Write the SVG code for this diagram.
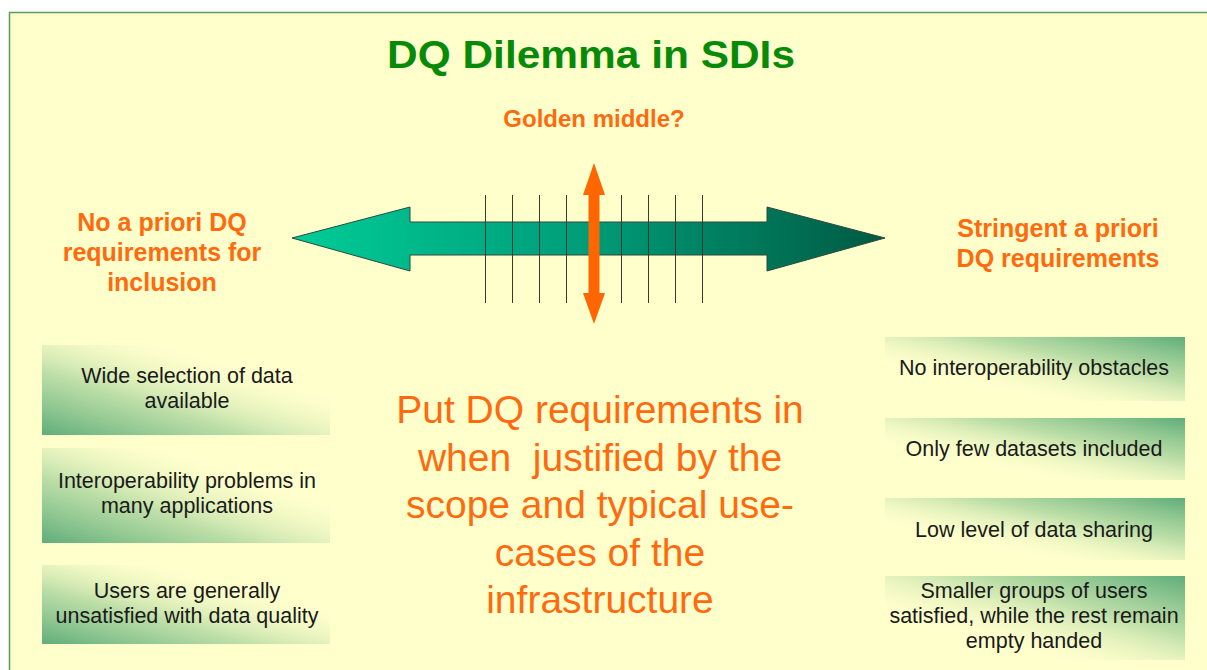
<svg xmlns="http://www.w3.org/2000/svg" width="1207" height="670" viewBox="0 0 1207 670">
<defs>
<linearGradient id="gArrow" x1="0" y1="0" x2="1" y2="0">
<stop offset="0" stop-color="#00CC98"/>
<stop offset="0.5" stop-color="#009C78"/>
<stop offset="1" stop-color="#005A42"/>
</linearGradient>
<linearGradient id="gLeft" x1="0" y1="1" x2="1" y2="0">
<stop offset="0" stop-color="#5FAD7A" stop-opacity="1"/>
<stop offset="0.35" stop-color="#B0D8A0" stop-opacity="0.85"/>
<stop offset="0.75" stop-color="#FFFFCC" stop-opacity="0"/>
</linearGradient>
<linearGradient id="gRight" x1="1" y1="0" x2="0" y2="1">
<stop offset="0" stop-color="#5FAD7A" stop-opacity="1"/>
<stop offset="0.35" stop-color="#B0D8A0" stop-opacity="0.85"/>
<stop offset="0.75" stop-color="#FFFFCC" stop-opacity="0"/>
</linearGradient>
</defs>
<style>
text{font-family:"Liberation Sans",Arial,Helvetica,sans-serif;text-anchor:middle}
.title{font-size:39px;font-weight:bold;fill:#078A07}
.ol{font-size:25px;font-weight:bold;fill:#FF6A0F}
.gm{font-size:24px;font-weight:bold;fill:#FF6A0F}
.big{font-size:39px;fill:#FF6A0F}
.bx{font-size:21.5px;fill:#1A1A1A}
.tick{stroke:#3A3A30;stroke-width:1}
</style>
<rect x="0" y="0" width="1207" height="670" fill="#FFFFFF"/>
<rect id="frame" x="9.5" y="12.5" width="1210" height="690" fill="#FFFFCC" stroke="#5E9C5E" stroke-width="1.5"/>

<g id="title"><text class="title" x="591" y="68" textLength="408" lengthAdjust="spacingAndGlyphs">DQ Dilemma in SDIs</text></g>
<g id="golden-middle"><text class="gm" x="594" y="127">Golden middle?</text></g>
<g id="left-label"><text class="ol" x="162" y="231">No a priori DQ</text><text class="ol" x="162" y="261">requirements for</text><text class="ol" x="162" y="291">inclusion</text></g>
<g id="right-label"><text class="ol" x="1058" y="237">Stringent a priori</text><text class="ol" x="1058" y="267">DQ requirements</text></g>

<g id="connectors">
<path d="M292,238 L410,207 L410,222 L767,222 L767,207 L885,238 L767,271 L767,255 L410,255 L410,271 Z" fill="url(#gArrow)" stroke="#2E4A3C" stroke-width="1"/>
<g class="ticks">
<line class="tick" x1="485.5" y1="195" x2="485.5" y2="303"/>
<line class="tick" x1="512.5" y1="195" x2="512.5" y2="303"/>
<line class="tick" x1="539.5" y1="195" x2="539.5" y2="303"/>
<line class="tick" x1="566.5" y1="195" x2="566.5" y2="303"/>
<line class="tick" x1="621.5" y1="195" x2="621.5" y2="303"/>
<line class="tick" x1="648.5" y1="195" x2="648.5" y2="303"/>
<line class="tick" x1="675.5" y1="195" x2="675.5" y2="303"/>
<line class="tick" x1="702.5" y1="195" x2="702.5" y2="303"/>
</g>
<path d="M594,163 L605,195 L599.5,195 L599.5,293 L605,293 L594,324 L583,293 L588.5,293 L588.5,195 L583,195 Z" fill="#FF6600"/>
</g>

<g id="center-text">
<text class="big" x="600" y="423">Put DQ requirements in</text>
<text class="big" x="600" y="471" xml:space="preserve">when  justified by the</text>
<text class="big" x="600" y="518">scope and typical use-</text>
<text class="big" x="600" y="566">cases of the</text>
<text class="big" x="600" y="613">infrastructure</text>
</g>

<g id="left-box-1"><rect x="42" y="345" width="288" height="90" fill="url(#gLeft)"/><text class="bx" x="187" y="383">Wide selection of data</text><text class="bx" x="187" y="408">available</text></g>
<g id="left-box-2"><rect x="42" y="448" width="288" height="95" fill="url(#gLeft)"/><text class="bx" x="187" y="488">Interoperability problems in</text><text class="bx" x="187" y="513">many applications</text></g>
<g id="left-box-3"><rect x="42" y="565" width="288" height="79" fill="url(#gLeft)"/><text class="bx" x="187" y="598">Users are generally</text><text class="bx" x="187" y="623">unsatisfied with data quality</text></g>

<g id="right-box-1"><rect x="885" y="337" width="300" height="64" fill="url(#gRight)"/><text class="bx" x="1034" y="375">No interoperability obstacles</text></g>
<g id="right-box-2"><rect x="885" y="418" width="300" height="62" fill="url(#gRight)"/><text class="bx" x="1034" y="456">Only few datasets included</text></g>
<g id="right-box-3"><rect x="885" y="498" width="300" height="62" fill="url(#gRight)"/><text class="bx" x="1034" y="537">Low level of data sharing</text></g>
<g id="right-box-4"><rect x="885" y="576" width="300" height="84" fill="url(#gRight)"/><text class="bx" x="1034" y="598">Smaller groups of users</text><text class="bx" x="1034" y="623">satisfied, while the rest remain</text><text class="bx" x="1034" y="648">empty handed</text></g>
</svg>
